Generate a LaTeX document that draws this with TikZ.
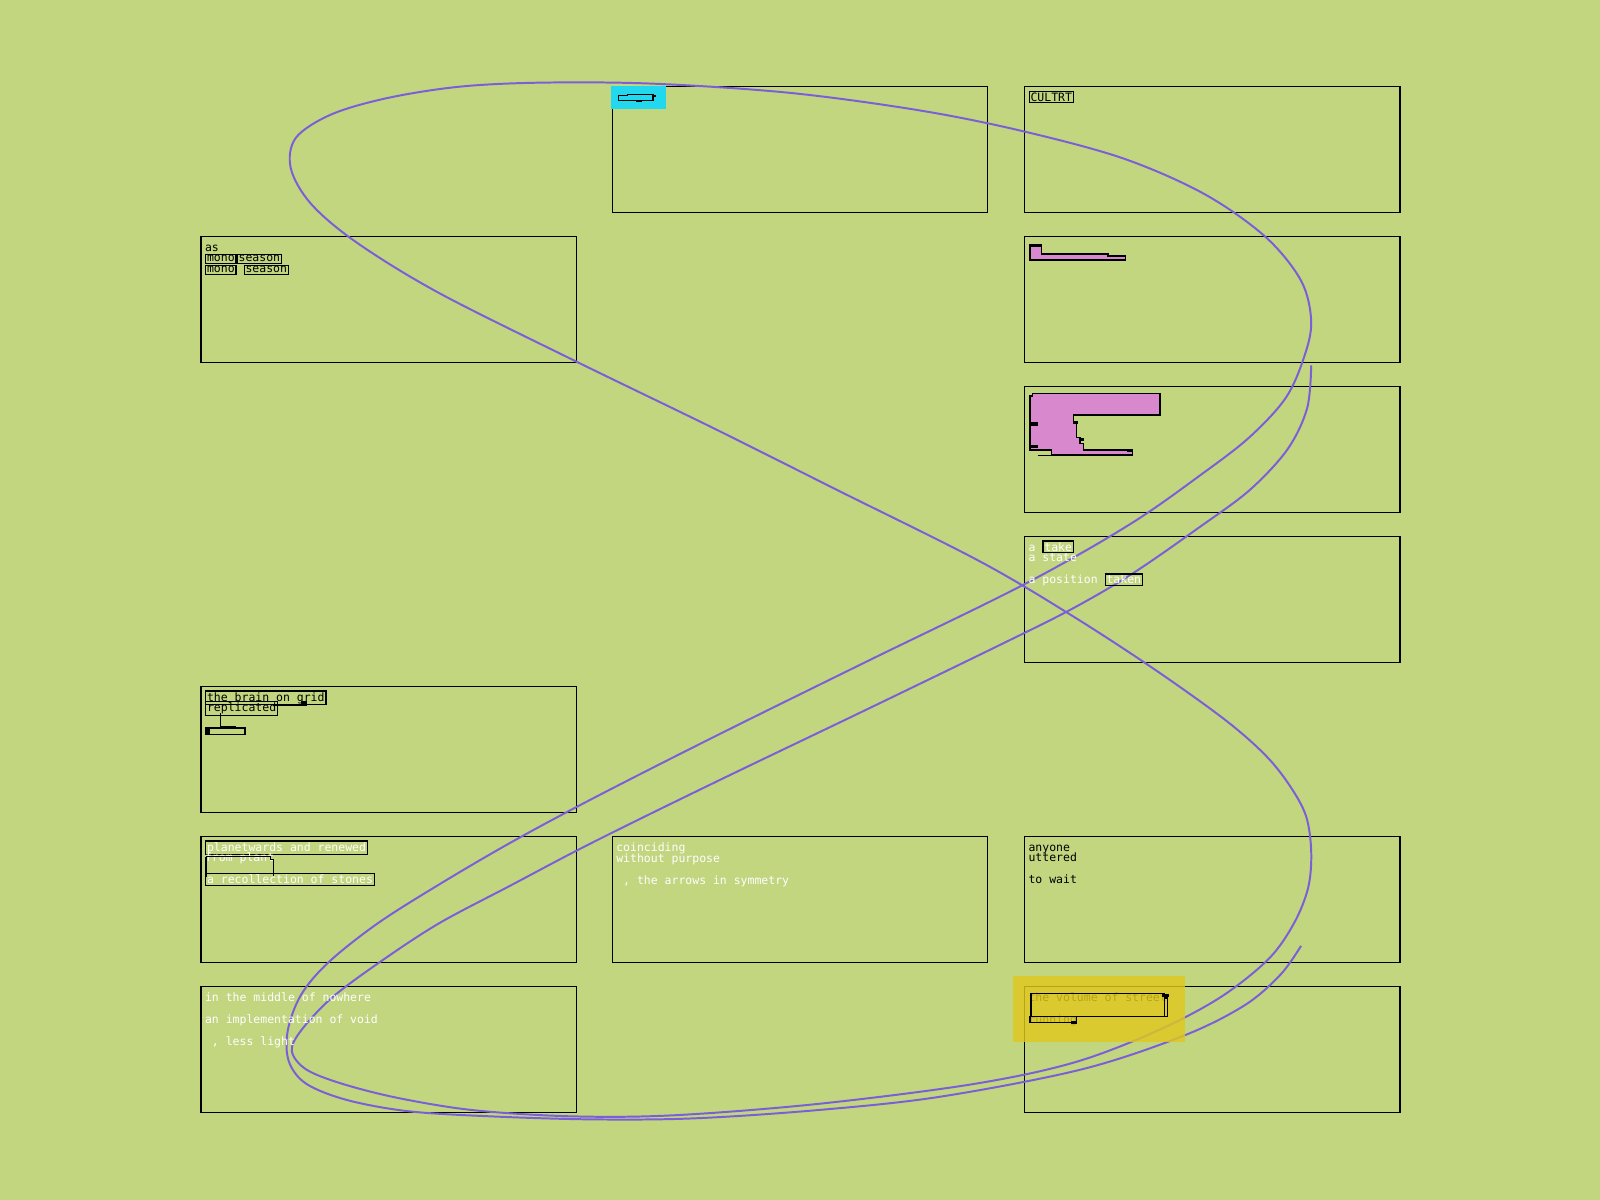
\documentclass[tikz,border=0pt]{standalone}
\usepackage{fontspec}
\usepackage{xcolor}
\usepackage{tikz}
\usetikzlibrary{calc,positioning}
\newfontfamily\pixfont{DejaVu Sans Mono}
\definecolor{bgcol}{RGB}{194,213,127}
\definecolor{loopcol}{RGB}{123,95,216}
\definecolor{blobcol}{RGB}{216,136,204}
\definecolor{tagcyan}{RGB}{34,216,238}
\definecolor{hiyellow}{RGB}{224,200,30}
\setlength{\fboxsep}{0.2pt}
\setlength{\fboxrule}{0.35pt}
\newcommand{\tstrut}{\rule{0pt}{2.4pt}}
\newcommand{\bx}[1]{\colorlet{bxcur}{.}\smash{\textcolor{black}{\fbox{\textcolor{bxcur}{#1}}}}}

\begin{document}
\begin{tikzpicture}[x=0.01cm,y=-0.01cm,
  panel/.style={draw, line width=0.35pt, minimum width=3.68cm, minimum height=1.23cm, inner sep=0pt},
  txt/.style={anchor=north west, inner sep=0pt, align=left, font={\pixfont\fontsize{3.2pt}{3.06pt}\selectfont\lineskiplimit=-5pt\relax}},
  wtxt/.style={txt, text=white},
  curve/.style={draw=loopcol, line width=0.55pt},
  blob/.style={draw, fill=blobcol, line width=0.4pt},
  frame/.style={draw, line width=0.35pt}]
\useasboundingbox (0,0) rectangle (1568,1176);
\fill[bgcol] (0,0) rectangle (1568,1176);

% panels
\node[panel] (p12) at (784,146.5) {};  \node[panel] (p13) at (1188,146.5) {};
\node[panel] (p21) at (381,293.5) {};  \node[panel] (p23) at (1188,293.5) {};
\node[panel] (p33) at (1188,440.5) {};
\node[panel] (p43) at (1188,587.5) {};
\node[panel] (p51) at (381,734.5) {};
\node[panel] (p61) at (381,881.5) {};  \node[panel] (p62) at (784,881.5) {};  \node[panel] (p63) at (1188,881.5) {};
\node[panel] (p71) at (381,1028.5) {}; \node[panel] (p73) at (1188,1028.5) {};

% the long loop
\draw[curve] plot[smooth, tension=0.55] coordinates {
 (1285,358) (1281,400) (1262,440) (1225,480) (1175,517) (1110,562) (1050,597) (980,632)
 (850,695) (700,767) (580,826) (500,868) (430,905) (372,943) (325,978) (295,1010) (286,1030)
 (300,1048) (335,1062) (390,1076) (464,1088) (560,1094) (660,1093) (800,1082) (950,1063)
 (1050,1042) (1130,1012) (1195,978) (1243,940) (1268,905) (1282,870) (1285,835) (1280,800)
 (1264,770) (1240,740) (1200,705) (1130,655) (1050,603) (960,550) (820,480) (700,420) (560,352)
 (430,287) (350,238) (305,200) (285,165) (290,135) (325,112) (380,96) (450,85) (530,81) (640,82)
 (774,91) (900,108) (1000,128) (1100,155) (1180,190) (1240,232) (1275,275) (1285,315) (1278,350)
 (1260,390) (1225,428) (1180,463) (1107,514) (1003,573) (850,648) (700,722) (580,783) (500,826)
 (430,867) (370,905) (322,943) (295,975) (282,1010) (283,1040) (300,1062) (340,1078) (400,1089)
 (480,1094) (580,1097) (680,1096) (800,1088) (920,1075) (1060,1048) (1160,1015) (1220,985)
 (1255,955) (1275,927)};

% texts
\node[txt] (t13) at ([shift={(4,5.5)}]p13.north west) {\tstrut\bx{CULTRT}};
\node[txt] (t21) at ([shift={(4,5.5)}]p21.north west) {\tstrut as\\\bx{mono}\bx{season}\\\bx{mono} \bx{season}};
\node[wtxt] (t43) at ([shift={(4,5.5)}]p43.north west) {\tstrut a \bx{take}\\a state\\~\\a position \bx{taken}};
\node[txt] (t51) at ([shift={(4,5.5)}]p51.north west) {\tstrut\bx{the brain on grid}\\\bx{replicated}};
\node[wtxt] (t61) at ([shift={(4,5.5)}]p61.north west) {\tstrut\bx{planetwards and renewed}\\from plant\\~\\\bx{a recollection of stones}};
\node[wtxt] (t62) at ([shift={(4,5.5)}]p62.north west) {\tstrut coinciding\\without purpose\\~\\~, the arrows in symmetry};
\node[txt] (t63) at ([shift={(4,5.5)}]p63.north west) {\tstrut anyone\\uttered\\~\\to wait};
\node[wtxt] (t71) at ([shift={(4,5.5)}]p71.north west) {\tstrut in the middle of nowhere\\~\\an implementation of void\\~\\~, less light};
\node[txt] (t73) at ([shift={(4,5.5)}]p73.north west) {\tstrut the volume of street\\~\\running};

% marks round the brain text
\draw[frame] (216,699) -- (216,712) -- (231,712);
\draw[frame] (268,691) -- (296,691);
\fill (295,687) rectangle (301,691.5);
\draw[frame] (202,713.5) rectangle (240,719.5);
\fill (202,714) rectangle (206,719); \fill (228,712) rectangle (233,714.5);
% marks round the plant text
\draw[frame] (202,839.5) -- (265,839.5) -- (265,842) -- (268,842) -- (268,858.5);
\draw[frame] (202,839.5) -- (202,859);

% blobs
\draw[blob] (1009.4,240) -- (1020.8,240) -- (1020.8,249) -- (1086,249) -- (1086,251) -- (1103,251)
  -- (1103,255) -- (1009.4,255) -- cycle;
\fill (1009.4,240) rectangle (1020.8,242);
\draw[blob] (1012,385.5) -- (1137,385.5) -- (1137,406.7) -- (1052,406.7) -- (1052,413) -- (1055,413)
  -- (1055,428.6) -- (1058.4,428.6) -- (1058.4,434.5) -- (1061.7,434.5) -- (1061.7,441) -- (1110,441)
  -- (1110,446) -- (1030.6,446) -- (1030.6,441) -- (1009.4,441) -- (1009.4,388) -- (1012,388) -- cycle;
\fill (1009.4,414) rectangle (1017,417); \fill (1009.4,436) rectangle (1017,439);
\fill (1052,413) rectangle (1056,416); \fill (1058.4,429) rectangle (1062,432);
\fill (1104,440) rectangle (1110,443);
\draw[frame] (1017,446.5) -- (1030,446.5);

% cyan tag
\node[fill=tagcyan, minimum width=0.54cm, minimum height=0.23cm, inner sep=0pt, anchor=north west] (tag) at (597.8,83.3) {};
\draw[frame] (606,93.5) -- (615,93.5) -- (615,92.5) -- (640,92.5) -- (640,98.3) -- (606,98.3) -- cycle;
\fill (640,93) rectangle (643,95); \fill (623,98) rectangle (629,99.5);

% yellow highlight
\node[fill=hiyellow, fill opacity=0.82, minimum width=1.69cm, minimum height=0.645cm, inner sep=0pt, anchor=north west] (hl) at (991.8,955.5) {};
\draw[frame] (1010.4,973.5) rectangle (1141,996.3);
\draw[frame] (1141,978) -- (1144.3,978) -- (1144.3,996.3) -- (1141,996.3);
\fill (1139,974.5) rectangle (1146,977.5);
\draw[frame] (1009.4,996.3) rectangle (1055,1002.2);
\fill (1050,1001) rectangle (1055,1004);
\end{tikzpicture}
\end{document}
